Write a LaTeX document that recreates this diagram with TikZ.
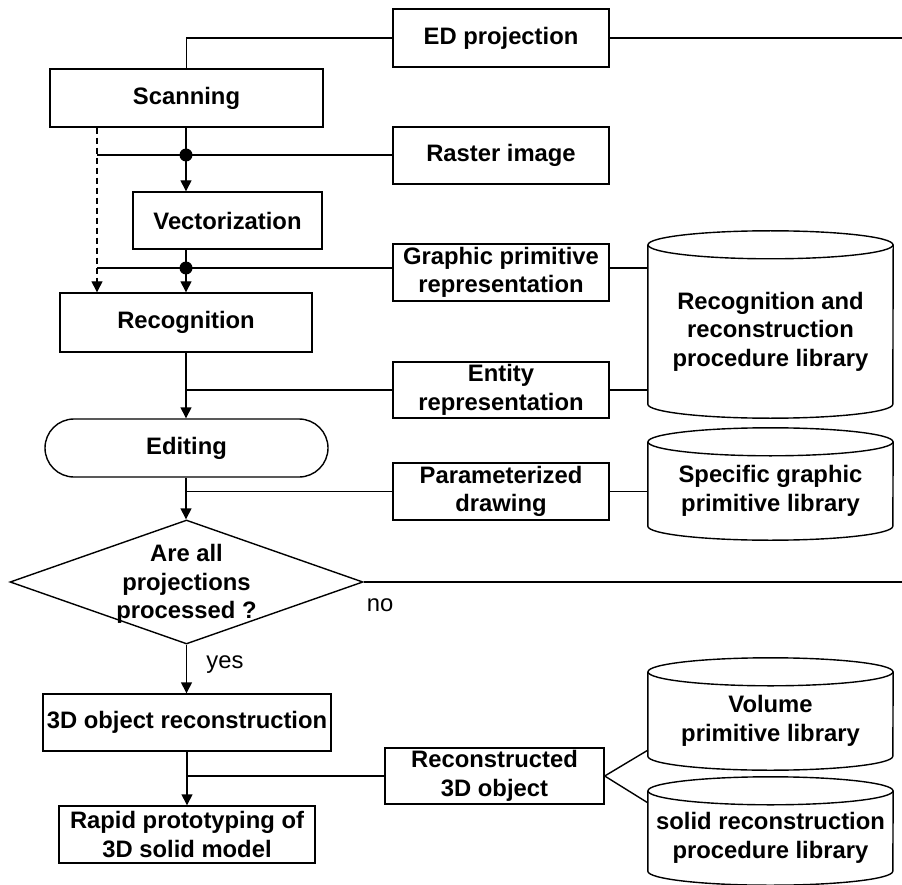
\documentclass[tikz,border=0pt]{standalone}
\usepackage{fontspec}
\setmainfont{Liberation Sans}
\usetikzlibrary{arrows.meta,shapes.geometric}
\newcommand{\drawcyl}[1]{%
  \draw[conn] (#1.north west) -- ([yshift=14pt]#1.south west)
    arc[start angle=180,end angle=360,x radius=122.5pt,y radius=14pt] -- (#1.north east);
  \draw[conn] (#1.north) ellipse[x radius=122.5pt,y radius=14pt];}
\begin{document}
\begin{tikzpicture}[x=1pt,y=1pt,
  every node/.style={font=\fontsize{23.8}{28.5}\selectfont\bfseries, inner sep=0pt, align=center},
  conn/.style={line width=1.4pt, black},
  arr/.style={conn, -{Triangle[length=11pt,width=11pt]}},
  box/.style={draw, line width=1.4pt},
  cylbox/.style={minimum width=245pt, minimum height=#1},
  lbl/.style={font=\fontsize{23.8}{28.5}\selectfont}]
\useasboundingbox (0,0) rectangle (902,-885);
% helper coordinates
\coordinate (dashx) at (97,0);
\coordinate (edgeR) at (902,0);
\coordinate (j1) at (186,-155);
\coordinate (j2) at (186,-268);
% process boxes
\node[box, minimum width=273pt, minimum height=58pt] (scan) at (186.5,-98) {Scanning};
\node[box, minimum width=189pt, minimum height=57pt] (vect) at (227.5,-220.5) {Vectorization};
\node[box, minimum width=252pt, minimum height=59pt] (recog) at (186,-322.5) {Recognition};
\node[box, rounded corners=29pt, minimum width=283pt, minimum height=58pt] (edit) at (186.5,-448) {Editing};
\node[diamond, box, minimum width=353pt, minimum height=124pt] (dec) at (186.5,-582) {};
\node (dectext) at (186.5,-584) {Are all\\projections\\processed ?};
\node[box, minimum width=288pt, minimum height=57pt] (recon) at (187,-722.5) {3D object reconstruction};
\node[box, minimum width=256pt, minimum height=57pt] (rapid) at (187,-834.5) {Rapid prototyping of\\3D solid model};
% data boxes
\node[box, minimum width=216pt, minimum height=58pt] (ed) at (501,-38) {ED projection};
\node[box, minimum width=216pt, minimum height=57pt] (raster) at (501,-155.5) {Raster image};
\node[box, minimum width=216pt, minimum height=57pt] (gpr) at (501,-272.5) {Graphic primitive\\representation};
\node[box, minimum width=216pt, minimum height=56pt] (entity) at (501,-390) {Entity\\representation};
\node[box, minimum width=216pt, minimum height=57pt] (param) at (501,-491.5) {Parameterized\\drawing};
\node[box, minimum width=219pt, minimum height=56pt] (rec3d) at (494.5,-776) {Reconstructed\\3D object};
% libraries
\node[cylbox=173pt] (cyl1) at (770.5,-331.5) {Recognition and\\reconstruction\\procedure library};
\node[cylbox=98pt] (cyl2) at (770.5,-491) {Specific graphic\\primitive library};
\node[cylbox=98pt] (cyl3) at (770.5,-721) {Volume\\primitive library};
\node[cylbox=94pt] (cyl4) at (770.5,-838) {solid reconstruction\\procedure library};
\drawcyl{cyl1}
\drawcyl{cyl2}
\drawcyl{cyl3}
\drawcyl{cyl4}
% labels
\node[lbl] (no) at (380,-605) {no};
\node[lbl] (yes) at (225,-665) {yes};
% connectors
\draw[conn] (scan.north) |- (ed.west);
\draw[conn] (ed.east) -- (ed.east -| edgeR);
\draw[arr] (scan.south -| j1) -- (vect.north -| j1);
\draw[conn] (j1 -| dashx) -- (raster.west |- j1);
\draw[arr, dashed, dash pattern=on 6pt off 4pt] (scan.south -| dashx) -- (recog.north -| dashx);
\draw[arr] (vect.south -| j1) -- (recog.north -| j1);
\draw[conn] (j2 -| dashx) -- (gpr.west |- j2);
\draw[conn] (gpr.east |- j2) -- (cyl1.west |- j2);
\fill (j1) circle[radius=6.5pt];
\fill (j2) circle[radius=6.5pt];
\draw[arr] (recog.south -| j1) -- (edit.north -| j1);
\draw[conn] (entity.west) -- (entity.west -| j1);
\draw[conn] (entity.east) -- (entity.east -| cyl1.west);
\draw[arr] (edit.south -| j1) -- (dec.north -| j1);
\draw[conn] (param.west) -- (param.west -| j1);
\draw[conn] (param.east) -- (param.east -| cyl2.west);
\draw[conn] (dec.east) -- (dec.east -| edgeR);
\draw[arr] (dec.south) -- (recon.north -| dec.south);
\draw[arr] (recon.south) -- (rapid.north);
\draw[conn] (rec3d.west) -- (rec3d.west -| recon.south);
\draw[conn] ([yshift=20pt]cyl3.south west) -- (rec3d.east) -- ([yshift=-12pt]cyl4.north west);
\end{tikzpicture}
\end{document}
